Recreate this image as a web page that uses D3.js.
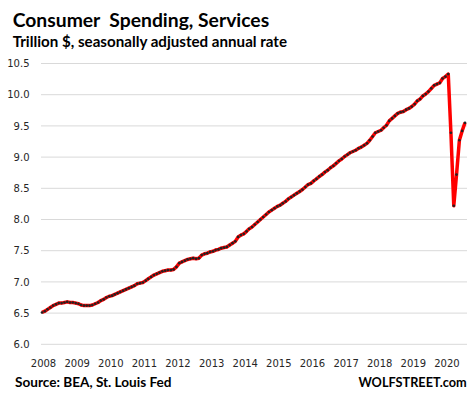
<!DOCTYPE html>
<html>
<head>
<meta charset="utf-8">
<script src="https://cdn.jsdelivr.net/npm/d3@7.9.0/dist/d3.min.js"></script>
<style>
  html, body { margin: 0; padding: 0; background: #fff; }
  svg { display: block; }
</style>
</head>
<body>
<svg id="chart" width="473" height="399"></svg>
<script>
// monthly values, trillion $ SAAR
const years = [2008, 2009, 2010, 2011, 2012, 2013, 2014, 2015, 2016, 2017, 2018, 2019, 2020];
const values2008 = [6.51, 6.53, 6.56, 6.59, 6.62, 6.64, 6.66, 6.66, 6.67, 6.68, 6.67, 6.67];
const values2009 = [6.66, 6.65, 6.63, 6.62, 6.62, 6.62, 6.63, 6.65, 6.67, 6.70, 6.72, 6.75];
const values2010 = [6.77, 6.78, 6.80, 6.82, 6.84, 6.86, 6.88, 6.90, 6.92, 6.94, 6.97, 6.98];
const values2011 = [6.99, 7.02, 7.05, 7.08, 7.11, 7.13, 7.15, 7.17, 7.18, 7.19, 7.19, 7.20];
const values2012 = [7.24, 7.30, 7.32, 7.34, 7.36, 7.37, 7.38, 7.37, 7.38, 7.43, 7.45, 7.46];
const values2013 = [7.48, 7.49, 7.51, 7.52, 7.54, 7.55, 7.56, 7.59, 7.62, 7.65, 7.72, 7.75];
const values2014 = [7.77, 7.81, 7.85, 7.88, 7.92, 7.96, 8.00, 8.04, 8.08, 8.12, 8.15, 8.18];
const values2015 = [8.21, 8.23, 8.26, 8.29, 8.33, 8.36, 8.39, 8.42, 8.45, 8.48, 8.52, 8.56];
const values2016 = [8.58, 8.62, 8.65, 8.69, 8.72, 8.76, 8.79, 8.83, 8.86, 8.90, 8.94, 8.97];
const values2017 = [9.01, 9.04, 9.07, 9.09, 9.11, 9.14, 9.16, 9.19, 9.22, 9.27, 9.33, 9.39];
const values2018 = [9.41, 9.43, 9.47, 9.51, 9.58, 9.62, 9.66, 9.70, 9.72, 9.73, 9.76, 9.78];
const values2019 = [9.81, 9.85, 9.90, 9.93, 9.98, 10.01, 10.05, 10.10, 10.15, 10.17, 10.19, 10.26];
const values2020 = [10.29, 10.33, 9.39, 8.22, 8.72, 9.27, 9.42, 9.55];

const yTicks = [6.0, 6.5, 7.0, 7.5, 8.0, 8.5, 9.0, 9.5, 10.0, 10.5];

const byYear = [values2008, values2009, values2010, values2011, values2012, values2013,
  values2014, values2015, values2016, values2017, values2018, values2019, values2020];

let data = [];
byYear.forEach((vals, i) => {
  vals.forEach((v, m) => data.push({ date: new Date(years[i], m, 1), value: v }));
});

const svg = d3.select('#chart');

let x = d3.scaleTime()
  .domain([data[0].date, data[data.length - 1].date])
  .range([42, 465]);

let y = d3.scaleLinear().domain([6, 10.5]).range([344.3, 63.5]);

// gridlines
svg.append('g')
  .selectAll('line')
  .data(yTicks)
  .join('line')
  .attr('x1', 41)
  .attr('x2', 467)
  .attr('y1', (d) => y(d))
  .attr('y2', (d) => y(d))
  .attr('stroke', '#d9d9d9')
  .attr('stroke-width', 1);

// y labels
svg.append('g')
  .selectAll('text')
  .data(yTicks)
  .join('text')
  .attr('x', 29.5)
  .attr('y', (d) => y(d) + 3.7)
  .attr('text-anchor', 'end')
  .attr('font-family', 'DejaVu Sans, Verdana, sans-serif')
  .attr('font-size', 10)
  .attr('fill', '#262626')
  .text((d) => d.toFixed(1));

// x labels
svg.append('g')
  .selectAll('text')
  .data(years)
  .join('text')
  .attr('x', (d) => x(new Date(d, 0, 1)) + 1.5)
  .attr('y', 366.5)
  .attr('text-anchor', 'middle')
  .attr('font-family', 'DejaVu Sans, Verdana, sans-serif')
  .attr('font-size', 10)
  .attr('fill', '#262626')
  .text((d) => d);

// line
let line = d3.line()
  .x((d) => x(d.date))
  .y((d) => y(d.value));

svg.append('path')
  .datum(data)
  .attr('d', line)
  .attr('fill', 'none')
  .attr('stroke', '#ff0000')
  .attr('stroke-width', 3.5)
  .attr('stroke-linejoin', 'round');

svg.append('g')
  .selectAll('circle')
  .data(data)
  .join('circle')
  .attr('cx', (d) => x(d.date))
  .attr('cy', (d) => y(d.value))
  .attr('r', 1.35)
  .attr('fill', '#222');

// titles, fitted to the widths in the picture
function fitText(sel, width) {
  let w = sel.node().getComputedTextLength();
  let fs = parseFloat(sel.attr('font-size'));
  sel.attr('font-size', fs * width / w);
}

const boldFont = 'Lato, Open Sans, sans-serif';

let title = svg.append('text')
  .attr('x', 12.7).attr('y', 26.7)
  .attr('font-family', boldFont).attr('font-weight', 'bold')
  .attr('font-size', 19)
  .attr('fill', '#000')
  .attr('xml:space', 'preserve')
  .style('white-space', 'pre')
  .text('Consumer  Spending, Services');
fitText(title, 256.6);

let subtitle = svg.append('text')
  .attr('x', 12.7).attr('y', 46.7)
  .attr('font-family', boldFont).attr('font-weight', 'bold')
  .attr('font-size', 14)
  .attr('fill', '#000')
  .text('Trillion $, seasonally adjusted annual rate');
fitText(subtitle, 274.6);

let source = svg.append('text')
  .attr('x', 15).attr('y', 387.3)
  .attr('font-family', boldFont).attr('font-weight', 'bold')
  .attr('font-size', 13)
  .attr('fill', '#000')
  .text('Source: BEA, St. Louis Fed');
fitText(source, 156.7);

let brand = svg.append('text')
  .attr('x', 466.7).attr('y', 387.3)
  .attr('text-anchor', 'end')
  .attr('font-family', boldFont).attr('font-weight', 'bold')
  .attr('font-size', 13)
  .attr('fill', '#000')
  .text('WOLFSTREET.com');
fitText(brand, 108.3);
</script>
</body>
</html>
